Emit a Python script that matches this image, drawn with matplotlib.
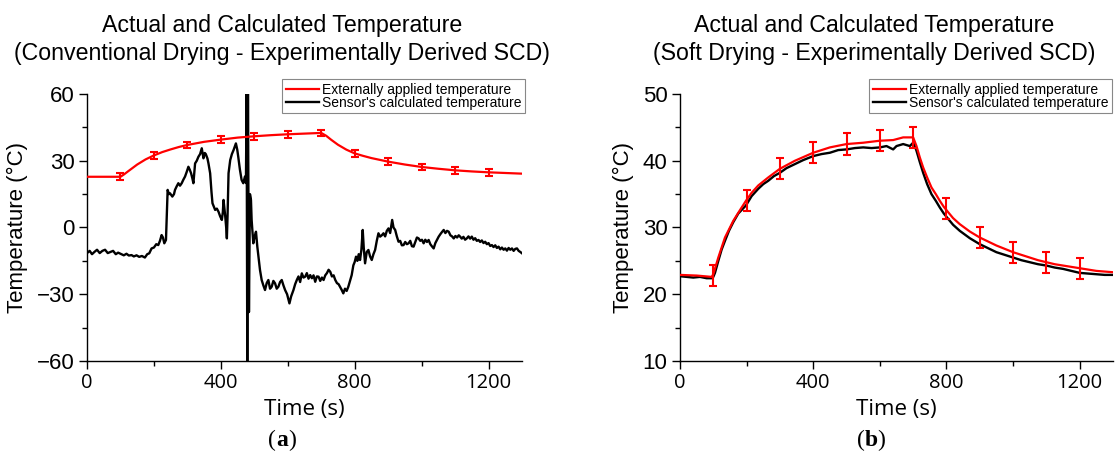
import matplotlib
matplotlib.use("Agg")
import matplotlib.pyplot as plt
from matplotlib.ticker import MultipleLocator

plt.rcParams['font.family'] = ['Liberation Sans', 'DejaVu Sans']

# ---- data ----
# (a) conventional drying
red_a_t = [0, 50, 100, 110, 125, 150, 175, 200, 225, 250, 275, 300, 350, 400, 450, 500,
           550, 600, 650, 700, 715, 730, 750, 775, 800, 825, 850, 875, 900, 950, 1000,
           1050, 1100, 1150, 1200, 1250, 1300]
red_a_v = [22.8, 22.8, 22.8, 23.8, 25.5, 28.3, 30.6, 32.4, 33.9, 35.1, 36.2, 37.1, 38.5,
           39.5, 40.4, 41.0, 41.5, 41.9, 42.2, 42.5, 41.2, 39.4, 37.2, 35.0, 33.3, 32.2,
           31.2, 30.4, 29.6, 28.3, 27.2, 26.4, 25.7, 25.2, 24.8, 24.5, 24.2]

err_t = [100, 200, 300, 400, 500, 600, 700, 800, 900, 1000, 1100, 1200]
err_a_v = [22.8, 32.4, 37.1, 39.5, 41.0, 41.9, 42.5, 33.3, 29.6, 27.2, 25.7, 24.8]
err_a_e = [1.5] * 12

black_a_t = [0, 8, 15, 22, 30, 38, 46, 54, 62, 70, 78, 86, 93, 100, 110, 118, 125, 133,
             140, 148, 156, 164, 173, 180, 186, 193, 200, 207, 213, 218, 223, 227, 231,
             236, 241, 245, 248, 255, 260, 263, 268, 273, 278, 283, 288, 293, 298, 303,
             307, 311, 315, 318, 323, 328, 333, 338, 343, 348, 352, 355, 360, 363, 368,
             372, 375, 380, 383, 388, 393, 398, 403, 406, 408, 411, 413, 416, 418, 420,
             423, 428, 433, 438, 442, 445, 449, 452, 457, 462, 467, 472, 475, 477, 479,
             481, 484, 487, 490, 492, 497, 501, 505, 509, 513, 517, 522, 527,
             532, 537, 542, 547, 552, 557, 562, 567, 572, 577, 582, 587, 592, 598, 605,
             610, 617, 622, 627, 632, 637, 642, 647, 652, 657, 662, 667, 672, 677, 682,
             687, 692, 697, 702, 707, 712, 717, 722, 727, 732, 737, 742, 747, 752, 756,
             761, 766, 771, 776, 781, 786, 791, 796, 800, 804, 808, 812, 816, 820, 824,
             827, 831, 836, 841, 846, 851, 856, 861, 866, 871, 876, 881, 886, 891, 896,
             901, 906, 912, 916, 921, 926, 931, 936, 941, 946, 951, 956, 961, 966, 971,
             976, 981, 986, 991, 996, 1001, 1006, 1011, 1016, 1021, 1026, 1031, 1036,
             1041, 1046, 1051, 1056, 1061, 1066, 1071, 1076, 1081, 1086, 1091, 1096,
             1101, 1106, 1111, 1115, 1120, 1125, 1130, 1135, 1140, 1145, 1150, 1155,
             1160, 1165, 1170, 1175, 1180, 1185, 1190, 1195, 1200, 1205, 1210, 1215,
             1220, 1225, 1230, 1235, 1240, 1245, 1250, 1255, 1260, 1265, 1270, 1275,
             1280, 1285, 1290, 1295, 1300]
black_a_v = [-11.5, -10.5, -12, -11, -10, -11.5, -10.5, -10, -11.5, -11, -10.5, -12, -11.3,
             -11.8, -12.5, -11.8, -12.6, -12.4, -13, -12.5, -13.2, -12.8, -13.5, -12,
             -11.6, -9.4, -9, -7.5, -7.9, -6, -3.4, -4.5, -7.1, -5.6, 16.9, 15, 15.4, 13.9,
             15, 16.9, 18.5, 19.9, 18.8, 19.9, 21.5, 22.9, 25, 27.3, 26, 24.4, 22, 19.9,
             28.8, 30, 31.8, 33, 35.6, 31.1, 33.5, 33, 31, 28.8, 24.4, 16, 10.9, 9, 7.9,
             8.5, 7.1, 5, 3.4, 7, 12.4, 8, 5.2, 0, -4.9, 5, 24.4, 30.3, 33, 34.8, 36.5,
             37.8, 35, 31.8, 26, 21.4, 19.9, 22.9, 20, 60, -60, 60, -38, 15, 12.4,
             3.4, -7.1, -4, -1.9, -8.6, -14, -19.1, -23.6, -26, -28.1, -25, -23.6, -27.5,
             -26.6, -24, -25.1, -27.5, -26.6, -24.5, -23.6, -26, -28.1, -30, -34.1, -31,
             -28.1, -25.5, -23.6, -22, -24.5, -20.6, -22.5, -22.1, -20.5, -23, -21.4,
             -22.8, -21.5, -24.4, -22, -22.1, -24, -22.5, -23.6, -21.5, -20.5, -19,
             -19.9, -22, -21.5, -23.6, -25, -25.5, -26.6, -28, -29.6, -27.5, -28.5,
             -26.6, -24, -21.4, -17, -15.5, -13.1, -15, -12, -14.6, -10, -1.1, -9, -16.1,
             -11, -10.1, -13, -14.6, -12, -10.1, -6, -2.6, -4.1, -3.5, -2.6, -4, -1.5,
             -0.4, -2.5, 3.4, 0, -1.1, -4, -6.4, -6, -8, -7.9, -6.5, -7.5, -7.1, -6, -8.4,
             -8.6, -6.5, -4.5, -4.9, -6, -5.5, -7.1, -5.5, -6.5, -5.6, -7.5, -8.5, -9.4,
             -7, -5.5, -4.1, -3, -2, -1.1, -2.5, -1.5, -1.9, -3.5, -4, -4.9, -3.8, -4.5,
             -3.5, -4.1, -5, -4.2, -5.5, -4.9, -4, -5, -4.1, -5.5, -4.8, -6, -5.6, -6.5,
             -5.8, -7, -6.4, -7.5, -7, -8.3, -7.9, -8.8, -8, -9.2, -8.6, -9.8, -9, -10,
             -9.4, -10.4, -9.2, -10, -9.4, -10.5, -9.6, -9.4, -10.5, -11, -11.6]

# (b) soft drying
red_b_t = [0, 50, 95, 100, 115, 135, 160, 180, 198, 215, 235, 265, 300, 345, 400, 450, 500,
           550, 600, 640, 670, 700, 710, 720, 730, 742, 755, 768, 780, 792, 805, 820, 840,
           870, 900, 925, 950, 975, 1000, 1025, 1050, 1075, 1100, 1125, 1150, 1175, 1200,
           1250, 1300]
red_b_v = [22.9, 22.8, 22.6, 23.0, 25.5, 28.5, 31.0, 32.6, 34.0, 35.2, 36.3, 37.5, 38.8,
           40.0, 41.2, 42.0, 42.5, 42.7, 43.0, 43.1, 43.5, 43.5, 42.2, 40.5, 39.0, 37.5,
           36.0, 35.0, 34.0, 33.1, 32.3, 31.4, 30.5, 29.4, 28.5, 27.9, 27.3, 26.8, 26.3,
           25.9, 25.5, 25.1, 24.8, 24.5, 24.3, 24.1, 23.9, 23.5, 23.3]

err_b_v = [22.8, 34.0, 38.8, 41.2, 42.5, 43.0, 43.5, 32.8, 28.5, 26.3, 24.8, 23.9]
err_b_e = [1.6] * 12

black_b_t = [0, 20, 40, 60, 80, 95, 100, 105, 115, 125, 135, 147, 160, 175, 198, 215, 235,
             250, 265, 282, 300, 320, 345, 370, 400, 425, 450, 475, 500, 525, 550, 575,
             600, 620, 640, 650, 670, 690, 700, 705, 710, 720, 730, 742, 755, 768, 780,
             792, 805, 820, 840, 870, 900, 925, 950, 975, 1000, 1025, 1050, 1075, 1100,
             1125, 1150, 1175, 1200, 1225, 1250, 1275, 1300]
black_b_v = [22.7, 22.6, 22.5, 22.6, 22.4, 22.4, 22.6, 23.2, 25.0, 26.7, 28.0, 29.5, 30.8,
             32.1, 33.3, 34.7, 35.8, 36.5, 37.0, 37.7, 38.2, 38.9, 39.5, 40.1, 40.7, 41.0,
             41.2, 41.6, 41.7, 41.9, 42.0, 41.9, 42.0, 42.2, 41.7, 42.2, 42.5, 42.2, 42.7,
             42.2, 41.5, 39.8, 38.2, 36.5, 35.0, 34.0, 33.0, 32.1, 31.3, 30.4, 29.5, 28.4,
             27.5, 26.9, 26.3, 25.9, 25.5, 25.1, 24.8, 24.5, 24.3, 24.0, 23.8, 23.5, 23.2,
             23.1, 23.0, 22.9, 22.9]

titles = ["(Conventional Drying - Experimentally Derived SCD)",
          "(Soft Drying - Experimentally Derived SCD)"]
panel_tags = ["a", "b"]

fig = plt.figure(figsize=(11.18, 4.57), dpi=100)
W, H = 1118, 457

ax_a = fig.add_axes([87 / W, 1 - 361 / H, 435 / W, 267 / H])
ax_b = fig.add_axes([680 / W, 1 - 361 / H, 433 / W, 267 / H])

panels = [
    (ax_a, red_a_t, red_a_v, err_a_v, err_a_e, black_a_t, black_a_v, (-60, 60), 30, 15),
    (ax_b, red_b_t, red_b_v, err_b_v, err_b_e, black_b_t, black_b_v, (10, 50), 10, 5),
]
title_x = [282, 874]
tag_x = [282, 871]
legend_right = [525, 1112]

for i, (ax, rt, rv, ev, ee, bt, bv, ylim, ymaj, ymin) in enumerate(panels):
    ax.plot(bt, bv, color='black', lw=1.7, zorder=2,
            label="Sensor's calculated temperature")
    ax.plot(rt, rv, color='#ff0000', lw=1.6, zorder=3,
            label="Externally applied temperature")
    ax.errorbar(err_t, ev, yerr=ee, fmt='none', ecolor='#ff0000', elinewidth=1.5,
                capsize=3, capthick=1.5, zorder=4)

    ax.set_xlim(0, 1300)
    ax.set_ylim(*ylim)
    ax.xaxis.set_major_locator(MultipleLocator(400))
    ax.xaxis.set_minor_locator(MultipleLocator(200))
    ax.yaxis.set_major_locator(MultipleLocator(ymaj))
    ax.yaxis.set_minor_locator(MultipleLocator(ymin))
    ax.tick_params(which='major', direction='out', length=6, width=1)
    ax.tick_params(which='minor', direction='out', length=3.5, width=1)
    ax.tick_params(axis='y', labelsize=16, pad=3)
    ax.tick_params(axis='x', labelsize=14.5, pad=3)
    for lab in ax.get_xticklabels():
        lab.set_fontfamily(['Open Sans', 'DejaVu Sans'])
    for s in ['top', 'right']:
        ax.spines[s].set_visible(False)
    for s in ['left', 'bottom']:
        ax.spines[s].set_linewidth(1)

    ax.set_xlabel("Time (s)", fontsize=16, family=['Open Sans', 'DejaVu Sans'],
                  labelpad=4)
    ax.set_ylabel("Temperature (°C)", fontsize=16, labelpad=6)

    handles, labels = ax.get_legend_handles_labels()
    ax.legend(handles[::-1], labels[::-1], loc='lower right',
              bbox_to_anchor=(legend_right[i] / W, 1 - 113 / H),
              bbox_transform=fig.transFigure, fontsize=10, frameon=True,
              fancybox=False, edgecolor='#888888', framealpha=1,
              borderpad=0.25, labelspacing=-0.1, handlelength=2.4,
              handletextpad=0.2, borderaxespad=0)
    ax.get_legend().get_frame().set_linewidth(0.8)

    fig.text(title_x[i] / W, 1 - 31.7 / H, "Actual and Calculated Temperature",
             ha='center', va='baseline', fontsize=16.7)
    fig.text(title_x[i] / W, 1 - 60 / H, titles[i],
             ha='center', va='baseline', fontsize=16.7)

    # panel tag "(a)" / "(b)" with bold letter
    fig.text(tag_x[i] / W, 1 - 440 / H, panel_tags[i], ha='center', va='center',
             fontsize=17, family='Liberation Serif', weight='bold')
    fig.text((tag_x[i] - 6) / W, 1 - 440 / H, "(", ha='right', va='center',
             fontsize=17, family='Liberation Serif')
    fig.text((tag_x[i] + 6) / W, 1 - 440 / H, ")", ha='left', va='center',
             fontsize=17, family='Liberation Serif')

fig.savefig("out.png", dpi=100)
